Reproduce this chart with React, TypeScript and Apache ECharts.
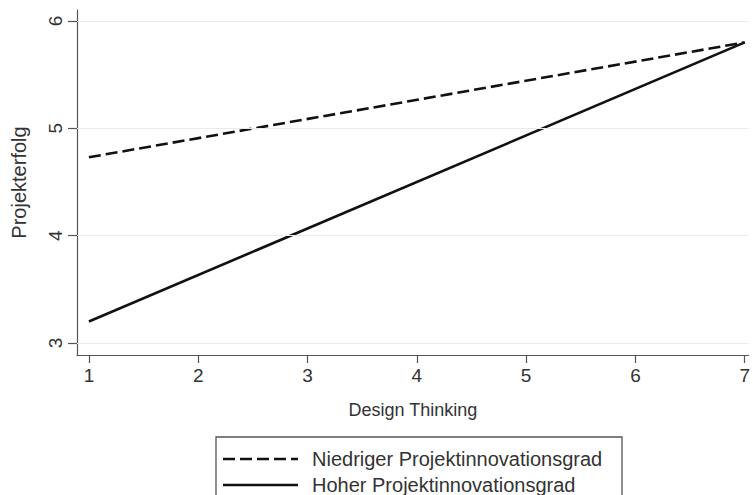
import React, { useEffect, useRef } from "react";
import * as echarts from "echarts";

// Predicted project success at the ends of the Design Thinking scale
const designThinking = [1, 7];
const niedrigerGrad = [4.73, 5.8];
const hoherGrad = [3.2, 5.8];

const xTicks = [1, 2, 3, 4, 5, 6, 7];
const yTicks = [3, 4, 5, 6];

const seriesNames = ["Niedriger Projektinnovationsgrad", "Hoher Projektinnovationsgrad"];

const FONT = "'Liberation Sans', Arial, Helvetica, sans-serif";
const TEXT = "#333333";
const AXIS = "#555555";
const INK = "#111111";
const DASH = [12, 5];

export default function App() {
  const ref = useRef<HTMLDivElement>(null);

  useEffect(() => {
    if (!ref.current) return;
    const chart = echarts.init(ref.current, undefined, { renderer: "svg" });

    const toPoints = (ys: number[]) => designThinking.map((x, i) => [x, ys[i]]);

    // Boxed key below the plot: line sample + label per series
    const keyRows = seriesNames.map((name, i) => {
      const y = 459 + i * 26;
      return [
        {
          type: "line",
          shape: { x1: 223, y1: y, x2: 298, y2: y },
          style: { stroke: INK, lineWidth: 2.6, lineDash: i === 0 ? DASH : null },
          silent: true,
        },
        {
          type: "text",
          x: 312,
          y,
          style: {
            text: name,
            fill: TEXT,
            font: `20px ${FONT}`,
            verticalAlign: "middle",
          },
          silent: true,
        },
      ];
    });

    chart.setOption({
      animation: false,
      backgroundColor: "#ffffff",
      textStyle: { fontFamily: FONT },
      grid: { left: 77, right: 0, top: 10, bottom: 140, containLabel: false },
      xAxis: {
        type: "value",
        min: 0.8909,
        max: 7.0364,
        name: "Design Thinking",
        nameLocation: "middle",
        nameGap: 46,
        nameTextStyle: { fontSize: 18, color: TEXT, fontFamily: FONT },
        axisLine: { show: true, onZero: false, lineStyle: { color: AXIS, width: 1.2 } },
        axisTick: { show: true, customValues: xTicks, length: 8, lineStyle: { color: AXIS, width: 1.2 } },
        axisLabel: { customValues: xTicks, fontSize: 19, color: TEXT, margin: 11, fontFamily: FONT },
        splitLine: { show: false },
      },
      yAxis: {
        type: "value",
        min: 2.888,
        max: 6.102,
        name: "Projekterfolg",
        nameLocation: "middle",
        nameRotate: 90,
        nameGap: 48,
        nameTextStyle: { fontSize: 20, color: TEXT, fontFamily: FONT },
        axisLine: { show: true, onZero: false, lineStyle: { color: AXIS, width: 1.2 } },
        axisTick: { show: true, customValues: yTicks, length: 9, lineStyle: { color: AXIS, width: 1.2 } },
        axisLabel: { customValues: yTicks, rotate: 90, fontSize: 19, color: TEXT, margin: 12, fontFamily: FONT },
        splitLine: { show: false },
      },
      graphic: [
        {
          type: "rect",
          shape: { x: 216, y: 437, width: 406, height: 80 },
          style: { fill: "none", stroke: AXIS, lineWidth: 1.3 },
          silent: true,
        },
        ...keyRows.flat(),
      ],
      series: [
        {
          name: "gitter",
          type: "line",
          data: [],
          z: 1,
          silent: true,
          markLine: {
            silent: true,
            symbol: "none",
            label: { show: false },
            lineStyle: { color: "#eaeaea", width: 1, type: "solid" },
            data: yTicks.map((v) => ({ yAxis: v })),
          },
        },
        {
          name: seriesNames[0],
          type: "line",
          data: toPoints(niedrigerGrad),
          symbol: "none",
          z: 3,
          lineStyle: { color: INK, width: 2.6, type: DASH },
        },
        {
          name: seriesNames[1],
          type: "line",
          data: toPoints(hoherGrad),
          symbol: "none",
          z: 3,
          lineStyle: { color: INK, width: 2.6, type: "solid" },
        },
      ],
    });

    return () => chart.dispose();
  }, []);

  return (
    <div
      ref={ref}
      style={{ position: "fixed", left: 0, top: 0, width: 753, height: 495, background: "#fff" }}
    />
  );
}
